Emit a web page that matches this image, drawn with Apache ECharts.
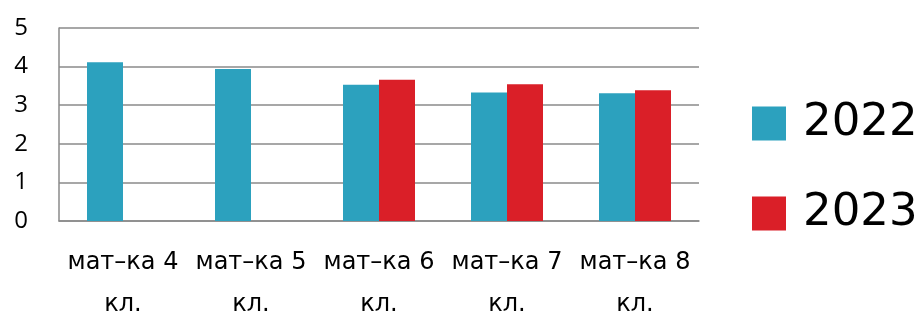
<!DOCTYPE html>
<html>
<head>
<meta charset="utf-8">
<script src="https://cdn.jsdelivr.net/npm/echarts@6/dist/echarts.min.js"></script>
<style>
  html, body { margin: 0; padding: 0; background: #fff; }
  #chart { width: 924px; height: 315px; }
</style>
</head>
<body>
<div id="chart"></div>
<script>
const categories = ["мат–ка 4 кл.", "мат–ка 5 кл.", "мат–ка 6 кл.", "мат–ка 7 кл.", "мат–ка 8 кл."];
const values2022 = [4.11, 3.94, 3.53, 3.33, 3.31];
const values2023 = [null, null, 3.66, 3.54, 3.39];
const yTicks = [0, 1, 2, 3, 4, 5];

const gridColor = "#8a8a8a";

let myChart = echarts.init(document.getElementById("chart"));
myChart.setOption({
    animation: false,
    grid: { left: 59, right: 225, top: 28, bottom: 94, outerBoundsMode: "none" },
    legend: {
        orient: "vertical",
        left: 752,
        top: 101,
        padding: 0,
        icon: "rect",
        itemWidth: 34,
        itemHeight: 34,
        itemGap: 45,
        data: ["2022", "2023"],
        textStyle: {
            fontFamily: "DejaVu Sans",
            fontSize: 45,
            color: "#000",
            lineHeight: 18,
            padding: [0, 0, 16, 12]
        }
    },
    xAxis: {
        type: "category",
        data: categories,
        axisTick: { show: false },
        axisLine: { lineStyle: { color: gridColor, width: 1.5 } },
        axisLabel: {
            interval: 0,
            margin: 21,
            color: "#000",
            fontFamily: "DejaVu Sans",
            fontSize: 24,
            lineHeight: 42,
            formatter: v => v.replace(" кл.", "\nкл.")
        }
    },
    yAxis: {
        type: "value",
        min: yTicks[0],
        max: yTicks[yTicks.length - 1],
        interval: 1,
        axisLine: { show: true, lineStyle: { color: gridColor, width: 1.5 } },
        axisTick: { show: false },
        splitLine: { lineStyle: { color: gridColor, width: 1.5 } },
        axisLabel: {
            margin: 31,
            color: "#000",
            fontFamily: "Open Sans",
            fontSize: 24
        }
    },
    series: [
        {
            name: "2022",
            type: "bar",
            data: values2022,
            barWidth: 36,
            barGap: 0,
            itemStyle: { color: "#2ca1be" }
        },
        {
            name: "2023",
            type: "bar",
            data: values2023,
            barWidth: 36,
            barGap: 0,
            itemStyle: { color: "#da1f28" }
        }
    ]
});
</script>
</body>
</html>
